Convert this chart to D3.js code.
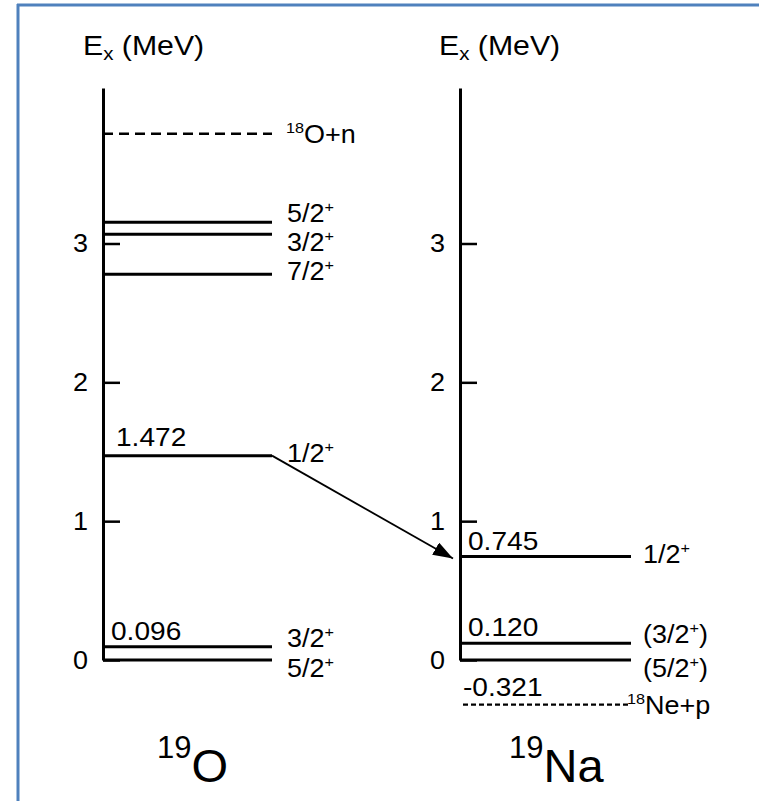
<!DOCTYPE html>
<html>
<head>
<meta charset="utf-8">
<script src="https://cdn.jsdelivr.net/npm/d3@7"></script>
<style>
  html, body { margin: 0; padding: 0; background: #fff; }
  svg text { font-family: "Liberation Sans", Arial, Helvetica, sans-serif; fill: #000; }
</style>
</head>
<body>
<svg id="chart" width="759" height="801"></svg>
<script>
// Tick values on both energy axes (MeV)
const tickValues = [0, 1, 2, 3];

// 19O levels: energy, spin-parity, optional printed energy
const levelsO = [
  { e: 0.000, jp: "5/2", par: "+", val: null },
  { e: 0.096, jp: "3/2", par: "+", val: "0.096" },
  { e: 1.472, jp: "1/2", par: "+", val: "1.472" },
  { e: 2.779, jp: "7/2", par: "+", val: null },
  { e: 3.067, jp: "3/2", par: "+", val: null },
  { e: 3.153, jp: "5/2", par: "+", val: null }
];
// 19Na levels
const levelsNa = [
  { e: 0.000, jp: "(5/2", par: "+", close: ")", val: null },
  { e: 0.120, jp: "(3/2", par: "+", close: ")", val: "0.120" },
  { e: 0.745, jp: "1/2", par: "+", close: "", val: "0.745" }
];
// Particle thresholds
const thresholds = [
  { side: "O", e: 3.79, mass: "18", label: "O+n", val: null },
  { side: "Na", e: -0.321, mass: "18", label: "Ne+p", val: "-0.321" }
];
// Nucleus names
const nuclei = [
  { side: "O", mass: "19", sym: "O" },
  { side: "Na", mass: "19", sym: "Na" }
];
const axisTop = 4.12;

const svg = d3.select("#chart");

// slightly widened lettering
const STRETCH = 1.08;
function label(parent, x, y, size, anchor) {
  return parent.append("text")
    .attr("transform", `translate(${x},${y}) scale(${STRETCH},1)`)
    .attr("font-size", size)
    .attr("text-anchor", anchor || "start");
}

// frame
svg.append("line").attr("x1", 18).attr("x2", 18).attr("y1", 4).attr("y2", 801)
  .attr("stroke", "#4f81bd").attr("stroke-width", 3);
svg.append("line").attr("x1", 17).attr("x2", 759).attr("y1", 5).attr("y2", 5)
  .attr("stroke", "#4f81bd").attr("stroke-width", 3);

const y = d3.scaleLinear().domain([0, axisTop]).range([660, 88]);

const cols = {
  O:  { ax: 103, x2: 272, lab: 287, title: 83,  nuc: 157 },
  Na: { ax: 460, x2: 631, lab: 643, title: 439, nuc: 509 }
};

function drawAxis(c) {
  const g = svg.append("g").attr("transform", `translate(${c.ax},0)`);
  const axis = d3.axisRight(y).tickValues(tickValues).tickSizeInner(17).tickSizeOuter(0).tickFormat("");
  g.call(axis);
  g.select(".domain").attr("stroke", "#000").attr("stroke-width", 3);
  g.selectAll(".tick line").attr("stroke", "#000").attr("stroke-width", 2.5);
  tickValues.forEach(v => label(g, -15, y(v) + 9, 25, "end").text(v));
  // axis title
  const t = label(svg, c.title, 55, 28);
  t.append("tspan").text("E");
  t.append("tspan").attr("font-size", 19).attr("dy", 5).text("x");
  t.append("tspan").attr("dy", -5).text(" (MeV)");
}
drawAxis(cols.O);
drawAxis(cols.Na);

function drawLevels(list, c) {
  const g = svg.append("g");
  g.selectAll("line.lvl").data(list).enter().append("line")
    .attr("x1", c.ax).attr("x2", c.x2)
    .attr("y1", d => y(d.e)).attr("y2", d => y(d.e))
    .attr("stroke", "#000").attr("stroke-width", 3);
  // spin-parity labels
  list.forEach(d => {
    let dy = 6;
    // separate labels of close-lying levels
    const near = list.find(o => o !== d && Math.abs(o.e - d.e) < 0.13);
    if (near) dy = d.e > near.e ? 0 : 17;
    const t = label(g, c.lab, y(d.e) + dy, 25);
    t.append("tspan").text(d.jp);
    t.append("tspan").attr("font-size", 15).attr("dy", -10).text(d.par);
    if (d.close) t.append("tspan").attr("dy", 10).text(d.close);
    if (d.val) {
      const off = d.e > 1 ? 13 : 8;
      label(g, c.ax + off, y(d.e) - (d.e > 1 ? 10 : 7), 26).text(d.val);
    }
  });
}
drawLevels(levelsO, cols.O);
drawLevels(levelsNa, cols.Na);

// thresholds
thresholds.forEach(d => {
  const c = cols[d.side];
  const small = d.side === "Na";
  svg.append("line").attr("x1", c.ax + (small ? 3 : 0)).attr("x2", c.x2)
    .attr("y1", y(d.e)).attr("y2", y(d.e))
    .attr("stroke", "#000").attr("stroke-width", small ? 2.2 : 2.5)
    .attr("stroke-dasharray", small ? "5,3" : "10,6");
  const t = label(svg, small ? c.x2 - 4 : c.lab - 1, y(d.e) + 9, 25);
  t.append("tspan").attr("font-size", 15).attr("dy", -10).text(d.mass);
  t.append("tspan").attr("dy", 10).text(d.label);
  if (d.val) label(svg, c.ax + 3, y(d.e) - 9, 26).text(d.val);
});

// decay arrow 1.472 (19O) -> 0.745 (19Na)
const src = levelsO.find(d => d.val === "1.472");
const dst = levelsNa.find(d => d.val === "0.745");
svg.append("defs").append("marker")
  .attr("id", "head").attr("viewBox", "0 0 10 7").attr("refX", 10).attr("refY", 3.5)
  .attr("markerWidth", 20).attr("markerHeight", 14).attr("markerUnits", "userSpaceOnUse")
  .attr("orient", "auto")
  .append("path").attr("d", "M0,0 L10,3.5 L0,7 Z").attr("fill", "#000");
svg.append("line")
  .attr("x1", cols.O.x2).attr("y1", y(src.e))
  .attr("x2", cols.Na.ax - 7).attr("y2", y(dst.e) + 2)
  .attr("stroke", "#000").attr("stroke-width", 1.8)
  .attr("marker-end", "url(#head)");

// nucleus names
nuclei.forEach(d => {
  const c = cols[d.side];
  const t = svg.append("text").attr("x", c.nuc).attr("y", 782).attr("font-size", 47);
  t.append("tspan").attr("font-size", 31).attr("dy", -24).text(d.mass);
  t.append("tspan").attr("dy", 24).text(d.sym);
});
</script>
</body>
</html>
